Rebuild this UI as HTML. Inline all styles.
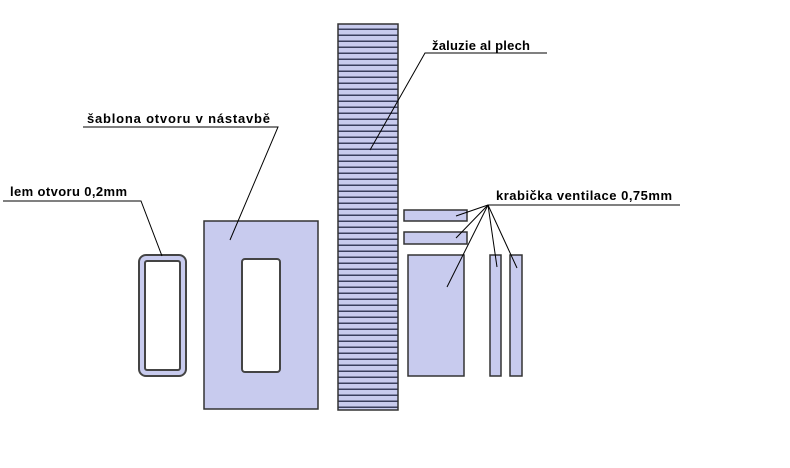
<!DOCTYPE html>
<html><head><style>
html,body{margin:0;padding:0;background:#fff;}
svg{display:block;}
text{font-family:"Liberation Sans",sans-serif;font-weight:bold;font-size:13px;fill:#000;}
</style></head><body>
<svg width="790" height="468" xmlns="http://www.w3.org/2000/svg">
<defs>
<pattern id="stripes" x="0" y="24" width="60" height="6" patternUnits="userSpaceOnUse">
<rect width="60" height="6" fill="#c8cbee"/>
<rect y="4.5" width="60" height="1.5" fill="#3a3f5e"/>
</pattern>
</defs>
<rect x="139" y="255" width="47" height="121" rx="7" fill="#c8cbee" stroke="#444" stroke-width="2"/>
<rect x="145" y="261" width="35" height="109" rx="2" fill="#fff" stroke="#444" stroke-width="2"/>
<rect x="204" y="221" width="114" height="188" fill="#c8cbee" stroke="#333" stroke-width="1.5"/>
<rect x="242" y="259" width="38" height="113" rx="3" fill="#fff" stroke="#444" stroke-width="2"/>
<rect x="338" y="24" width="60" height="386" fill="url(#stripes)" stroke="#333" stroke-width="1.5"/>
<g fill="#c8cbee" stroke="#333" stroke-width="1.5">
<rect x="404" y="210" width="63" height="11"/>
<rect x="404" y="232" width="63" height="12"/>
<rect x="408" y="255" width="56" height="121"/>
<rect x="490" y="255" width="11" height="121"/>
<rect x="510" y="255" width="12" height="121"/>
</g>
<g stroke="#000" stroke-width="1" fill="none">
<polyline points="3,201 141,201 162,256"/>
<polyline points="83,127 278,127 230,240"/>
<polyline points="547,53 425,53 370,150"/>
<polyline points="680,205 488,205"/>
<line x1="488" y1="205" x2="456" y2="216"/>
<line x1="488" y1="205" x2="456" y2="238"/>
<line x1="488" y1="205" x2="447" y2="287"/>
<line x1="488" y1="205" x2="497" y2="267"/>
<line x1="488" y1="205" x2="517" y2="268"/>
</g>
<text x="10" y="196" textLength="117" lengthAdjust="spacing">lem otvoru 0,2mm</text>
<text x="87" y="123" textLength="183" lengthAdjust="spacing">šablona otvoru v nástavbě</text>
<text x="432" y="50" textLength="98" lengthAdjust="spacing">žaluzie al plech</text>
<text x="496" y="200" textLength="176" lengthAdjust="spacing">krabička ventilace 0,75mm</text>
</svg>
</body></html>
